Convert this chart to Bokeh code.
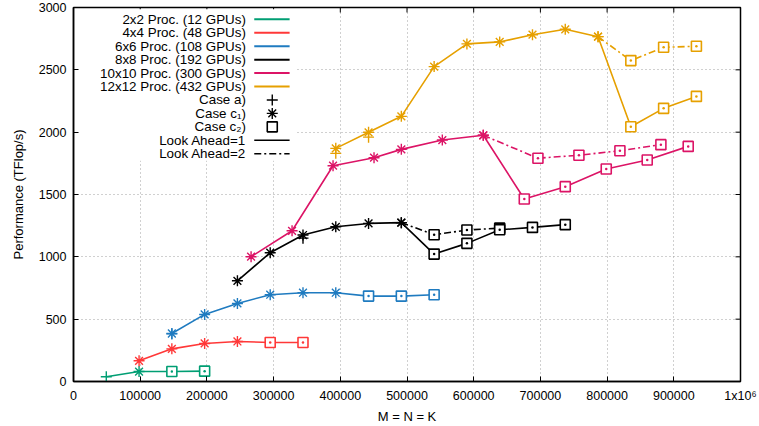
from bokeh.plotting import figure
from bokeh.models import Range1d, FixedTicker
from bokeh.core.properties import value
from bokeh.embed import file_html
from bokeh.resources import INLINE

# ---------------- data ----------------
series_names = ["2x2 Proc. (12 GPUs)", "4x4 Proc. (48 GPUs)", "6x6 Proc. (108 GPUs)",
                "8x8 Proc. (192 GPUs)", "10x10 Proc. (300 GPUs)", "12x12 Proc. (432 GPUs)"]
series_colors = ["#009E73", "#FF3838", "#1F7BC0", "#000000", "#DC1466", "#E6A000"]

# Look Ahead = 1 (solid)
x_2x2 = [49152, 98304, 147456, 196608]
y_2x2 = [38, 80, 80, 83]
c_2x2 = ["a", "c1", "c2", "c2"]

x_4x4 = [98304, 147456, 196608, 245760, 294912, 344064]
y_4x4 = [166, 262, 305, 321, 313, 313]
c_4x4 = ["c1", "c1", "c1", "c1", "c2", "c2"]

x_6x6 = [147456, 196608, 245760, 294912, 344064, 393216, 442368, 491520, 540672]
y_6x6 = [385, 538, 626, 696, 712, 712, 685, 685, 696]
c_6x6 = ["c1", "c1", "c1", "c1", "c1", "c1", "c2", "c2", "c2"]

x_8x8 = [245760, 294912, 344064, 393216, 442368, 491520, 540672, 589824, 638976, 688128, 737280]
y_8x8 = [808, 1033, 1175, 1241, 1268, 1274, 1022, 1108, 1217, 1236, 1258]
c_8x8 = ["c1", "c1", "c1", "c1", "c1", "c1", "c2", "c2", "c2", "c2", "c2"]

x_10x10 = [266240, 327680, 389120, 450560, 491520, 552960, 614400, 675840, 737280, 798720, 860160, 921600]
y_10x10 = [1001, 1209, 1731, 1795, 1862, 1937, 1975, 1464, 1563, 1704, 1777, 1886]
c_10x10 = ["c1", "c1", "c1", "c1", "c1", "c1", "c1", "c2", "c2", "c2", "c2", "c2"]

x_12x12 = [393216, 442368, 491520, 540672, 589824, 638976, 688128, 737280, 786432, 835584, 884736, 933888]
y_12x12 = [1870, 1999, 2127, 2526, 2708, 2724, 2782, 2825, 2766, 2044, 2191, 2287]
c_12x12 = ["c1", "c1", "c1", "c1", "c1", "c1", "c1", "c1", "c1", "c2", "c2", "c2"]

# Look Ahead = 2 (dash-dot)
x_8x8_la2 = [491520, 540672, 589824, 638976]
y_8x8_la2 = [1274, 1177, 1215, 1230]
c_8x8_la2 = ["c1", "c2", "c2", "c2"]

x_10x10_la2 = [614400, 696320, 757760, 819200, 880640]
y_10x10_la2 = [1975, 1791, 1815, 1851, 1900]
c_10x10_la2 = ["c1", "c2", "c2", "c2", "c2"]

x_12x12_la2 = [786432, 835584, 884736, 933888]
y_12x12_la2 = [2766, 2574, 2681, 2689]
c_12x12_la2 = ["c1", "c2", "c2", "c2"]

# extra Case a) points
case_a_x = [147456, 344064, 393216, 442368]
case_a_y = [382, 1150, 1830, 1960]
case_a_series = [2, 3, 5, 5]

x_ticks = [0, 100000, 200000, 300000, 400000, 500000, 600000, 700000, 800000, 900000, 1000000]
x_tick_labels = ["0", "100000", "200000", "300000", "400000", "500000", "600000",
                 "700000", "800000", "900000", "1x10\u2076"]
y_ticks = [0, 500, 1000, 1500, 2000, 2500, 3000]

case_labels = ["Case a)", "Case c\u2081)", "Case c\u2082)"]
la_labels = ["Look Ahead=1", "Look Ahead=2"]

# ---------------- styling ----------------
FONT = "Liberation Sans"
DASHDOT = "7 3 2 3"
LW = 1.6
X0, X1 = 0, 1000000
Y0, Y1 = 0, 3000

p = figure(width=759, height=426, output_backend="svg", toolbar_location=None,
           x_range=Range1d(X0, X1), y_range=Range1d(Y0, Y1),
           min_border_left=73, min_border_right=19, min_border_top=7, min_border_bottom=45)
p.background_fill_color = "white"
p.border_fill_color = "white"
p.outline_line_color = "black"
p.outline_line_width = 1.5
p.outline_line_alpha = 1.0

for ax in (p.xaxis[0], p.yaxis[0]):
    ax.major_tick_in = 5
    ax.major_tick_out = 0
    ax.minor_tick_line_color = None
    ax.axis_line_width = 1.5
    ax.major_tick_line_width = 1
    ax.major_label_text_font = FONT
    ax.major_label_text_font_size = "12.5px"
    ax.major_label_text_color = "black"
    ax.axis_label_text_font = FONT
    ax.axis_label_text_font_size = "13px"
    ax.axis_label_text_font_style = "normal"
    ax.axis_label_text_color = "black"

p.xaxis[0].ticker = FixedTicker(ticks=x_ticks)
p.xaxis[0].major_label_overrides = {t: l for t, l in zip(x_ticks, x_tick_labels)}
p.xaxis[0].axis_label = "M = N = K"
p.xaxis[0].major_label_standoff = 7
p.xaxis[0].axis_label_standoff = 3

p.yaxis[0].ticker = FixedTicker(ticks=y_ticks)
p.yaxis[0].axis_label = "Performance (TFlop/s)"
p.yaxis[0].major_label_standoff = 7
p.yaxis[0].axis_label_standoff = 10

for g in (p.xgrid[0], p.ygrid[0]):
    g.grid_line_color = "#a0a0a0"
    g.grid_line_dash = "1 3"
    g.grid_line_width = 1
p.xgrid[0].ticker = FixedTicker(ticks=x_ticks[1:-1])
p.ygrid[0].ticker = FixedTicker(ticks=y_ticks[1:-1])

# mirrored inward ticks on top and right border (gnuplot style, ~5 px long)
tick_len_y = 5 * (Y1 - Y0) / 374.0
tick_len_x = 5 * (X1 - X0) / 667.0
inner_xt = x_ticks[1:-1]
inner_yt = y_ticks[1:-1]
p.segment(x0=inner_xt, x1=inner_xt, y0=[Y1] * len(inner_xt), y1=[Y1 - tick_len_y] * len(inner_xt),
          line_color="black", line_width=1)
p.segment(x0=[X1] * len(inner_yt), x1=[X1 - tick_len_x] * len(inner_yt), y0=inner_yt, y1=inner_yt,
          line_color="black", line_width=1)


def draw_markers(xs, ys, cs, color):
    for case in ("a", "c1", "c2"):
        px = [x for x, c in zip(xs, cs) if c == case]
        py = [y for y, c in zip(ys, cs) if c == case]
        if not px:
            continue
        if case == "a":
            p.scatter(px, py, marker="cross", size=11, line_color=color, line_width=1.4)
        elif case == "c1":
            p.scatter(px, py, marker="asterisk", size=11, line_color=color, line_width=1.4)
        else:
            p.scatter(px, py, marker="square", size=10, line_color=color, line_width=1.6,
                      fill_color="white")
            p.scatter(px, py, marker="circle", size=2.5, line_color=None, fill_color=color)


la1 = [(x_2x2, y_2x2, c_2x2, 0), (x_4x4, y_4x4, c_4x4, 1), (x_6x6, y_6x6, c_6x6, 2),
       (x_8x8, y_8x8, c_8x8, 3), (x_10x10, y_10x10, c_10x10, 4), (x_12x12, y_12x12, c_12x12, 5)]
la2 = [(x_8x8_la2, y_8x8_la2, c_8x8_la2, 3), (x_10x10_la2, y_10x10_la2, c_10x10_la2, 4),
       (x_12x12_la2, y_12x12_la2, c_12x12_la2, 5)]

for xs, ys, cs, i in la2:
    p.line(xs, ys, line_color=series_colors[i], line_width=LW, line_dash=DASHDOT)
for xs, ys, cs, i in la1:
    p.line(xs, ys, line_color=series_colors[i], line_width=LW)
for xs, ys, cs, i in la2:
    draw_markers(xs, ys, cs, series_colors[i])
for xs, ys, cs, i in la1:
    draw_markers(xs, ys, cs, series_colors[i])
for x, y, i in zip(case_a_x, case_a_y, case_a_series):
    p.scatter([x], [y], marker="cross", size=11, line_color=series_colors[i], line_width=1.4)

# ---------------- key (gnuplot style: text right, sample left) ----------------
key_left, key_right = 7000, 334000
key_top, key_bottom = 2985, 1770
text_x = 258500
samp_x0, samp_x1, samp_xm = 271000, 324000, 298000
row_y0, row_dy = 2905, 107.8

p.quad(left=[key_left], right=[key_right], top=[key_top], bottom=[key_bottom],
       fill_color="white", line_color=None)

labels = series_names + case_labels + la_labels
rows_y = [row_y0 - k * row_dy for k in range(len(labels))]
p.text(x=[text_x] * len(labels), y=rows_y, text=labels, text_align="right",
       text_baseline="middle", text_font=value(FONT), text_font_size="13.4px",
       text_color="black")

n = len(series_names)
p.segment(x0=[samp_x0] * n, x1=[samp_x1] * n, y0=rows_y[:n], y1=rows_y[:n],
          line_color=series_colors, line_width=2)
p.scatter([samp_xm], [rows_y[n]], marker="cross", size=11, line_color="black", line_width=1.4)
p.scatter([samp_xm], [rows_y[n + 1]], marker="asterisk", size=11, line_color="black", line_width=1.4)
p.scatter([samp_xm], [rows_y[n + 2]], marker="square", size=10, line_color="black",
          line_width=1.6, fill_color="white")
p.segment(x0=[samp_x0], x1=[samp_x1], y0=[rows_y[n + 3]], y1=[rows_y[n + 3]],
          line_color="black", line_width=LW)
p.segment(x0=[samp_x0], x1=[samp_x1], y0=[rows_y[n + 4]], y1=[rows_y[n + 4]],
          line_color="black", line_width=LW, line_dash=DASHDOT)

open("out.html", "w").write(file_html(p, INLINE))
